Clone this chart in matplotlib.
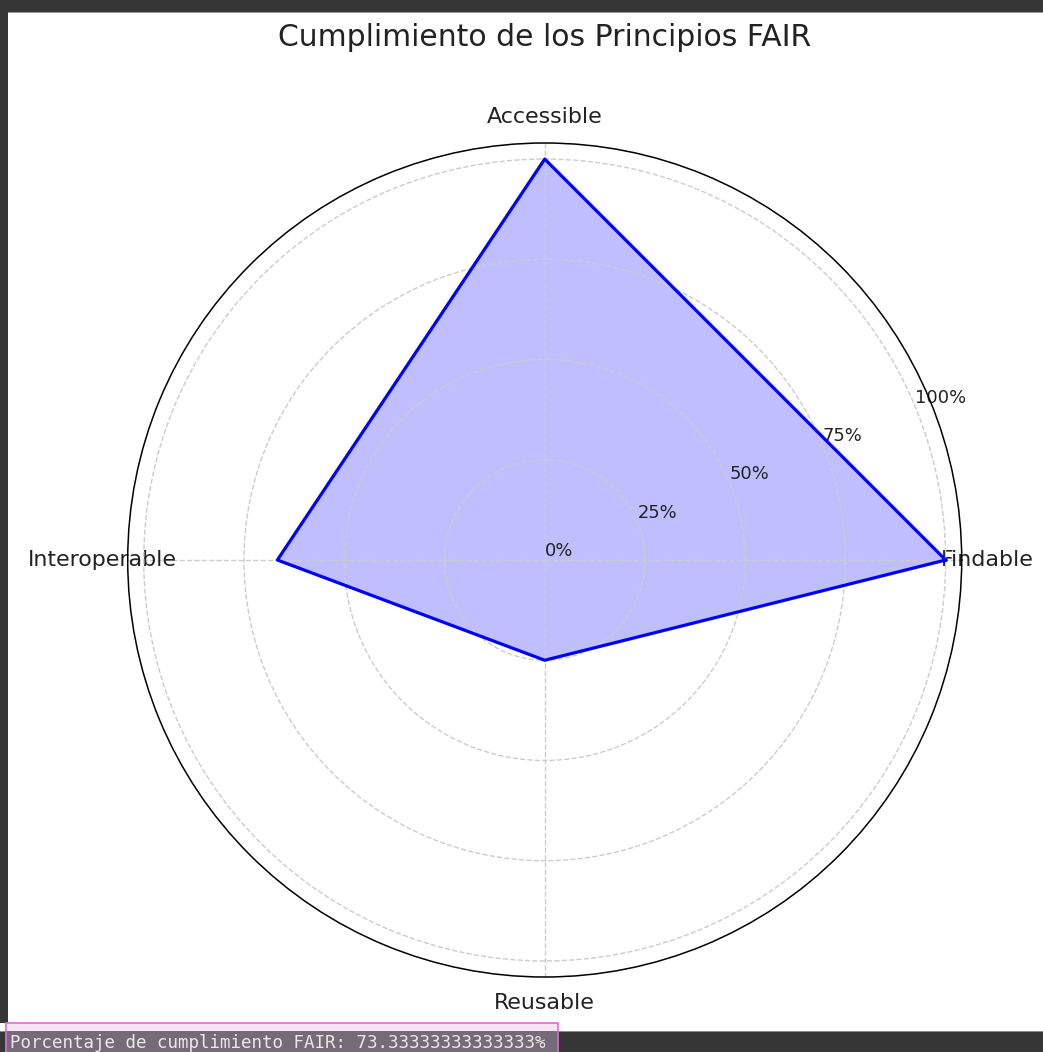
import numpy as np
import matplotlib
matplotlib.use("Agg")
import matplotlib.pyplot as plt
from matplotlib.patches import Rectangle

categories = ["Findable", "Accessible", "Interoperable", "Reusable"]
values = [100, 100, 66.67, 25]
r_ticks = [0, 25, 50, 75, 100]
r_tick_labels = ["0%", "25%", "50%", "75%", "100%"]
title = "Cumplimiento de los Principios FAIR"
console_text = "Porcentaje de cumplimiento FAIR: 73.33333333333333%"

W, H = 1043, 1052
fig = plt.figure(figsize=(W / 100, H / 100), dpi=100)
fig.patch.set_facecolor("white")

def px_rect(x0, y0, x1, y1, **kw):
    # pixel coords from top-left
    r = Rectangle((x0 / W, 1 - y1 / H), (x1 - x0) / W, (y1 - y0) / H,
                  transform=fig.transFigure, **kw)
    fig.patches.append(r)
    return r

# notebook frame
px_rect(0, 0, W, 12, facecolor="#363636", edgecolor="none", zorder=0)
px_rect(0, 12, W, 13, facecolor="#9a9a9a", edgecolor="none", zorder=0)
px_rect(0, 0, 8, 1023, facecolor="#363636", edgecolor="none", zorder=0)
px_rect(0, 1031, W, H, facecolor="#363636", edgecolor="none", zorder=0)
px_rect(0, 1031, W, 1032, facecolor="#8a8a8a", edgecolor="none", zorder=0)
px_rect(5, 1023, 558, 1031, facecolor="#f4e4f4", edgecolor="none", zorder=1)
px_rect(5, 1031, 558, H, facecolor="#766a78", edgecolor="none", zorder=1)
px_rect(5.5, 1022.5, 557.5, H + 2, facecolor="none", edgecolor="#d76fd7",
        linewidth=1.2, zorder=2)
fig.text(10 / W, 1 - 1043 / H, console_text, family="DejaVu Sans Mono",
         fontsize=12.6, color="#e8e8e8", ha="left", va="center", zorder=3)

# polar chart
cx, cy, R = 544.7, 560, 417
ax = fig.add_axes([(cx - R) / W, 1 - (cy + R) / H, 2 * R / W, 2 * R / H],
                  projection="polar")
angles = np.linspace(0, 2 * np.pi, len(categories), endpoint=False)
a_closed = np.concatenate([angles, angles[:1]])
v_closed = np.concatenate([values, values[:1]])
ax.fill(a_closed, v_closed, color="blue", alpha=0.25, linewidth=0)
ax.plot(a_closed, v_closed, color="blue", linewidth=2.3)

ax.set_xticks(angles)
ax.set_xticklabels(categories, fontsize=15.9, color="#222222")
ax.set_yticks(r_ticks)
ax.set_yticklabels(r_tick_labels, fontsize=12.9, color="#222222")
ax.set_ylim(0, 104)
ax.grid(True, linestyle="--", color="#cccccc", linewidth=1.0)
ax.spines["polar"].set_linewidth(1.1)
ax.tick_params(axis="x", pad=8)

fig.text(cx / W, 1 - 38 / H, title, fontsize=21.5, ha="center", va="center",
         color="#222222")

fig.savefig("out.png", dpi=100)
